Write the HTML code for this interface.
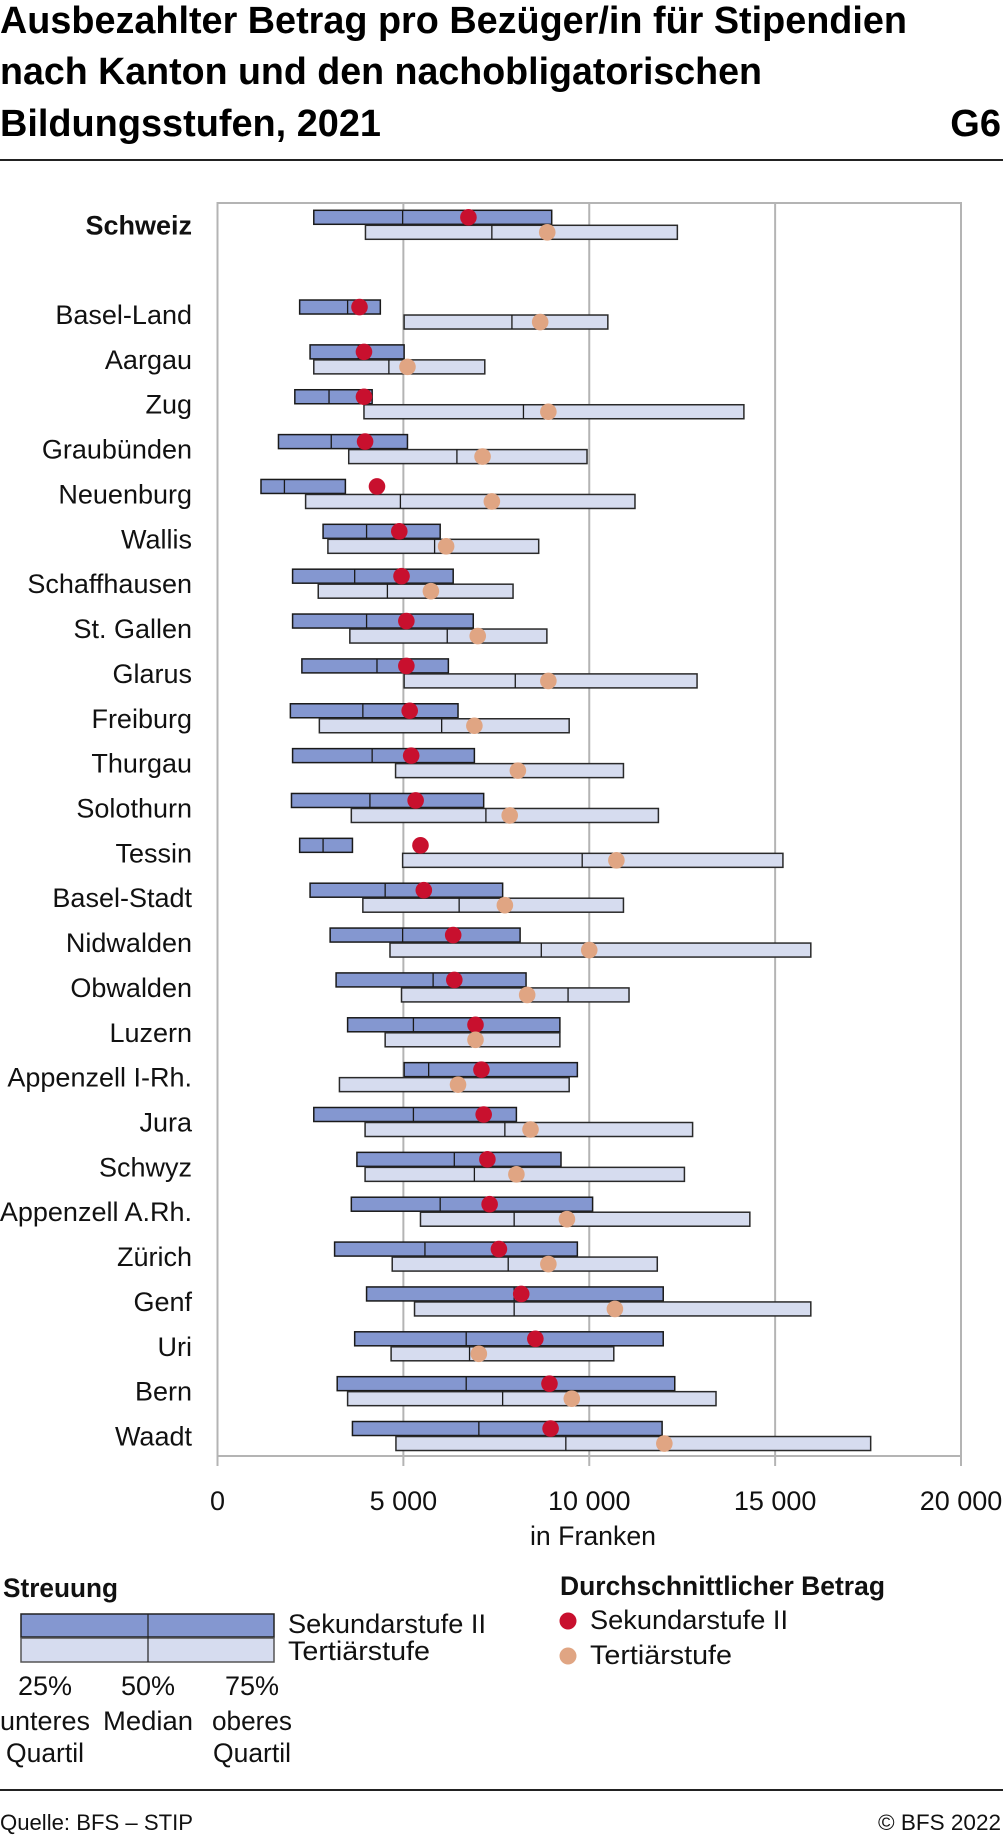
<!DOCTYPE html>
<html><head><meta charset="utf-8"><style>
html,body{margin:0;padding:0;background:#fff}
svg{display:block;font-family:"Liberation Sans",sans-serif}
</style></head><body>
<svg id="chart" width="1003" height="1842" viewBox="0 0 1003 1842" xmlns="http://www.w3.org/2000/svg">
<g font-weight="bold" font-size="38" fill="#000">
<text x="0" y="33" textLength="907" lengthAdjust="spacingAndGlyphs">Ausbezahlter Betrag pro Bezüger/in für Stipendien</text>
<text x="0" y="84" textLength="762" lengthAdjust="spacingAndGlyphs">nach Kanton und den nachobligatorischen</text>
<text x="0" y="136" textLength="381" lengthAdjust="spacingAndGlyphs">Bildungsstufen, 2021</text>
<text x="1001" y="136" text-anchor="end">G6</text>
</g>
<rect x="0" y="159" width="1003" height="2" fill="#222"/>
<g id="plot"></g>
<g fill="#111">
<text x="3" y="1597" font-weight="bold" font-size="27" textLength="115" lengthAdjust="spacingAndGlyphs">Streuung</text>
<rect x="21" y="1614" width="253" height="23" fill="#8497d0" stroke="#222" stroke-width="1.5"/>
<rect x="21" y="1638" width="253" height="24" fill="#d6dcef" stroke="#555" stroke-width="1.5"/>
<line x1="148" y1="1614" x2="148" y2="1662" stroke="#222" stroke-width="1.2"/>
<g font-size="27">
<text x="288" y="1633" textLength="198" lengthAdjust="spacingAndGlyphs">Sekundarstufe II</text>
<text x="288" y="1660" textLength="142" lengthAdjust="spacingAndGlyphs">Tertiärstufe</text>
<text x="45" y="1695" text-anchor="middle">25%</text>
<text x="148" y="1695" text-anchor="middle">50%</text>
<text x="252" y="1695" text-anchor="middle">75%</text>
<text x="45" y="1730" text-anchor="middle" textLength="90" lengthAdjust="spacingAndGlyphs">unteres</text>
<text x="148" y="1730" text-anchor="middle" textLength="90" lengthAdjust="spacingAndGlyphs">Median</text>
<text x="252" y="1730" text-anchor="middle" textLength="80" lengthAdjust="spacingAndGlyphs">oberes</text>
<text x="45" y="1762" text-anchor="middle" textLength="78" lengthAdjust="spacingAndGlyphs">Quartil</text>
<text x="252" y="1762" text-anchor="middle" textLength="78" lengthAdjust="spacingAndGlyphs">Quartil</text>
</g>
</g>
<g fill="#111">
<text x="560" y="1595" font-weight="bold" font-size="27" textLength="325" lengthAdjust="spacingAndGlyphs">Durchschnittlicher Betrag</text>
<circle cx="568" cy="1621" r="8.5" fill="#c8102e"/>
<text x="590" y="1629" font-size="27" textLength="198" lengthAdjust="spacingAndGlyphs">Sekundarstufe II</text>
<circle cx="568" cy="1656" r="8.5" fill="#e0a583"/>
<text x="590" y="1664" font-size="27" textLength="142" lengthAdjust="spacingAndGlyphs">Tertiärstufe</text>
</g>
<rect x="0" y="1789" width="1003" height="2" fill="#222"/>
<text x="0" y="1830" font-size="22" textLength="193" lengthAdjust="spacingAndGlyphs" fill="#111">Quelle: BFS – STIP</text>
<text x="1001" y="1830" font-size="22" text-anchor="end" textLength="123" lengthAdjust="spacingAndGlyphs" fill="#111">© BFS 2022</text>
</svg>
<script>
const categories = ["Schweiz","Basel-Land","Aargau","Zug","Graubünden","Neuenburg","Wallis","Schaffhausen","St. Gallen","Glarus","Freiburg","Thurgau","Solothurn","Tessin","Basel-Stadt","Nidwalden","Obwalden","Luzern","Appenzell I-Rh.","Jura","Schwyz","Appenzell A.Rh.","Zürich","Genf","Uri","Bern","Waadt"];
const sekQ1 = [2590,2210,2490,2080,1640,1170,2840,2020,2020,2270,1960,2020,1990,2210,2490,3030,3190,3500,5020,2590,3750,3600,3150,4010,3690,3220,3630];
const sekMed = [4980,3500,3790,3000,3060,1800,4010,3690,4010,4290,3910,4160,4100,2840,4510,4980,5800,5270,5680,5270,6370,5990,5580,7980,6690,6690,7030];
const sekQ3 = [8990,4380,5020,4160,5110,3440,5990,6340,6880,6210,6470,6910,7160,3630,7670,8140,8300,9210,9680,8040,9240,10090,9680,11990,11990,12300,11960];
const sekMean = [6750,3820,3940,3940,3970,4290,4890,4950,5080,5080,5170,5210,5330,5460,5550,6340,6370,6940,7100,7160,7260,7320,7570,8170,8550,8930,8960];
const terQ1 = [3980,5020,2590,3940,3530,2370,2970,2710,3560,5020,2740,4790,3600,4980,3910,4640,4950,4510,3280,3970,3970,5460,4700,5300,4670,3500,4800];
const terMed = [7380,7920,4610,8230,6440,4920,5840,4570,6180,8010,6030,8040,7220,9810,6500,8710,9430,6940,6470,7730,6910,7980,7820,7980,6780,7670,9370];
const terQ3 = [12370,10500,7190,14160,9940,11230,8640,7950,8860,12900,9460,10920,11860,15210,10920,15960,11070,9210,9460,12780,12560,14320,11830,15960,10660,13410,17570];
const terMean = [8870,8680,5110,8900,7130,7380,6150,5740,7000,8900,6910,8080,7860,10730,7730,10000,8330,6940,6470,8420,8040,9400,8900,10690,7030,9530,12020];
const ticks = [0,5000,10000,15000,20000];
const tickLabels = ["0","5 000","10 000","15 000","20 000"];

const NS = "http://www.w3.org/2000/svg";
const plot = document.getElementById("plot");
const X0 = 217.5, X1 = 961, XMAX = 20000, Y0 = 203, Y1 = 1456;
const xs = v => X0 + (v / XMAX) * (X1 - X0);
const rowY = i => 224.8 + (i === 0 ? 0 : (i + 1) * 44.86);
function mk(tag, attrs, parent) {
  const e = document.createElementNS(NS, tag);
  for (const k in attrs) e.setAttribute(k, attrs[k]);
  (parent || plot).appendChild(e);
  return e;
}
// grid
ticks.forEach((t, i) => {
  if (i > 0 && i < ticks.length - 1) {
    const g = mk("line", {x1: xs(t), x2: xs(t), y1: Y0, y2: Y1, stroke: "#b4b4b4", "stroke-width": 2});
    
    
  }
  const tk = mk("line", {x1: xs(t), x2: xs(t), y1: Y1, y2: Y1 + 10, stroke: "#b4b4b4", "stroke-width": 2});
  
  
  const tl = mk("text", {x: xs(t), y: 1510, "text-anchor": "middle", "font-size": 27, fill: "#111"});
  tl.textContent = tickLabels[i];
  
  
});
const frame = mk("rect", {x: X0, y: Y0, width: X1 - X0, height: Y1 - Y0, fill: "none", stroke: "#b4b4b4", "stroke-width": 2});


const xt = mk("text", {x: 593, y: 1545, "text-anchor": "middle", "font-size": 27, fill: "#111", textLength: 126, lengthAdjust: "spacingAndGlyphs"});
xt.textContent = "in Franken";



categories.forEach((c, i) => {
  const cy = rowY(i);
  const lab = mk("text", {x: 192, y: cy + 9.5, "text-anchor": "end", "font-size": 27, fill: "#111", "font-weight": i === 0 ? "bold" : "normal"});
  lab.textContent = c;
  
  
  const bs = mk("rect", {x: xs(sekQ1[i]), y: cy - 14.5, width: xs(sekQ3[i]) - xs(sekQ1[i]), height: 14, fill: "#8497d0", stroke: "#1a1a1a", "stroke-width": 1.5});
  
  
  const ms = mk("line", {x1: xs(sekMed[i]), x2: xs(sekMed[i]), y1: cy - 14.5, y2: cy - 0.5, stroke: "#1a1a1a", "stroke-width": 1.3});
  
  
  const bt = mk("rect", {x: xs(terQ1[i]), y: cy + 0.5, width: xs(terQ3[i]) - xs(terQ1[i]), height: 14, fill: "#d6dcef", stroke: "#2a2a2a", "stroke-width": 1.5});
  
  
  const mt = mk("line", {x1: xs(terMed[i]), x2: xs(terMed[i]), y1: cy + 0.5, y2: cy + 14.5, stroke: "#1a1a1a", "stroke-width": 1.3});
  
  
  const ds = mk("circle", {cx: xs(sekMean[i]), cy: cy - 7.5, r: 8.3, fill: "#c8102e"});
  
  
  const dt = mk("circle", {cx: xs(terMean[i]), cy: cy + 7.5, r: 8.3, fill: "#e0a583"});
  
  
});
</script>
</body></html>
